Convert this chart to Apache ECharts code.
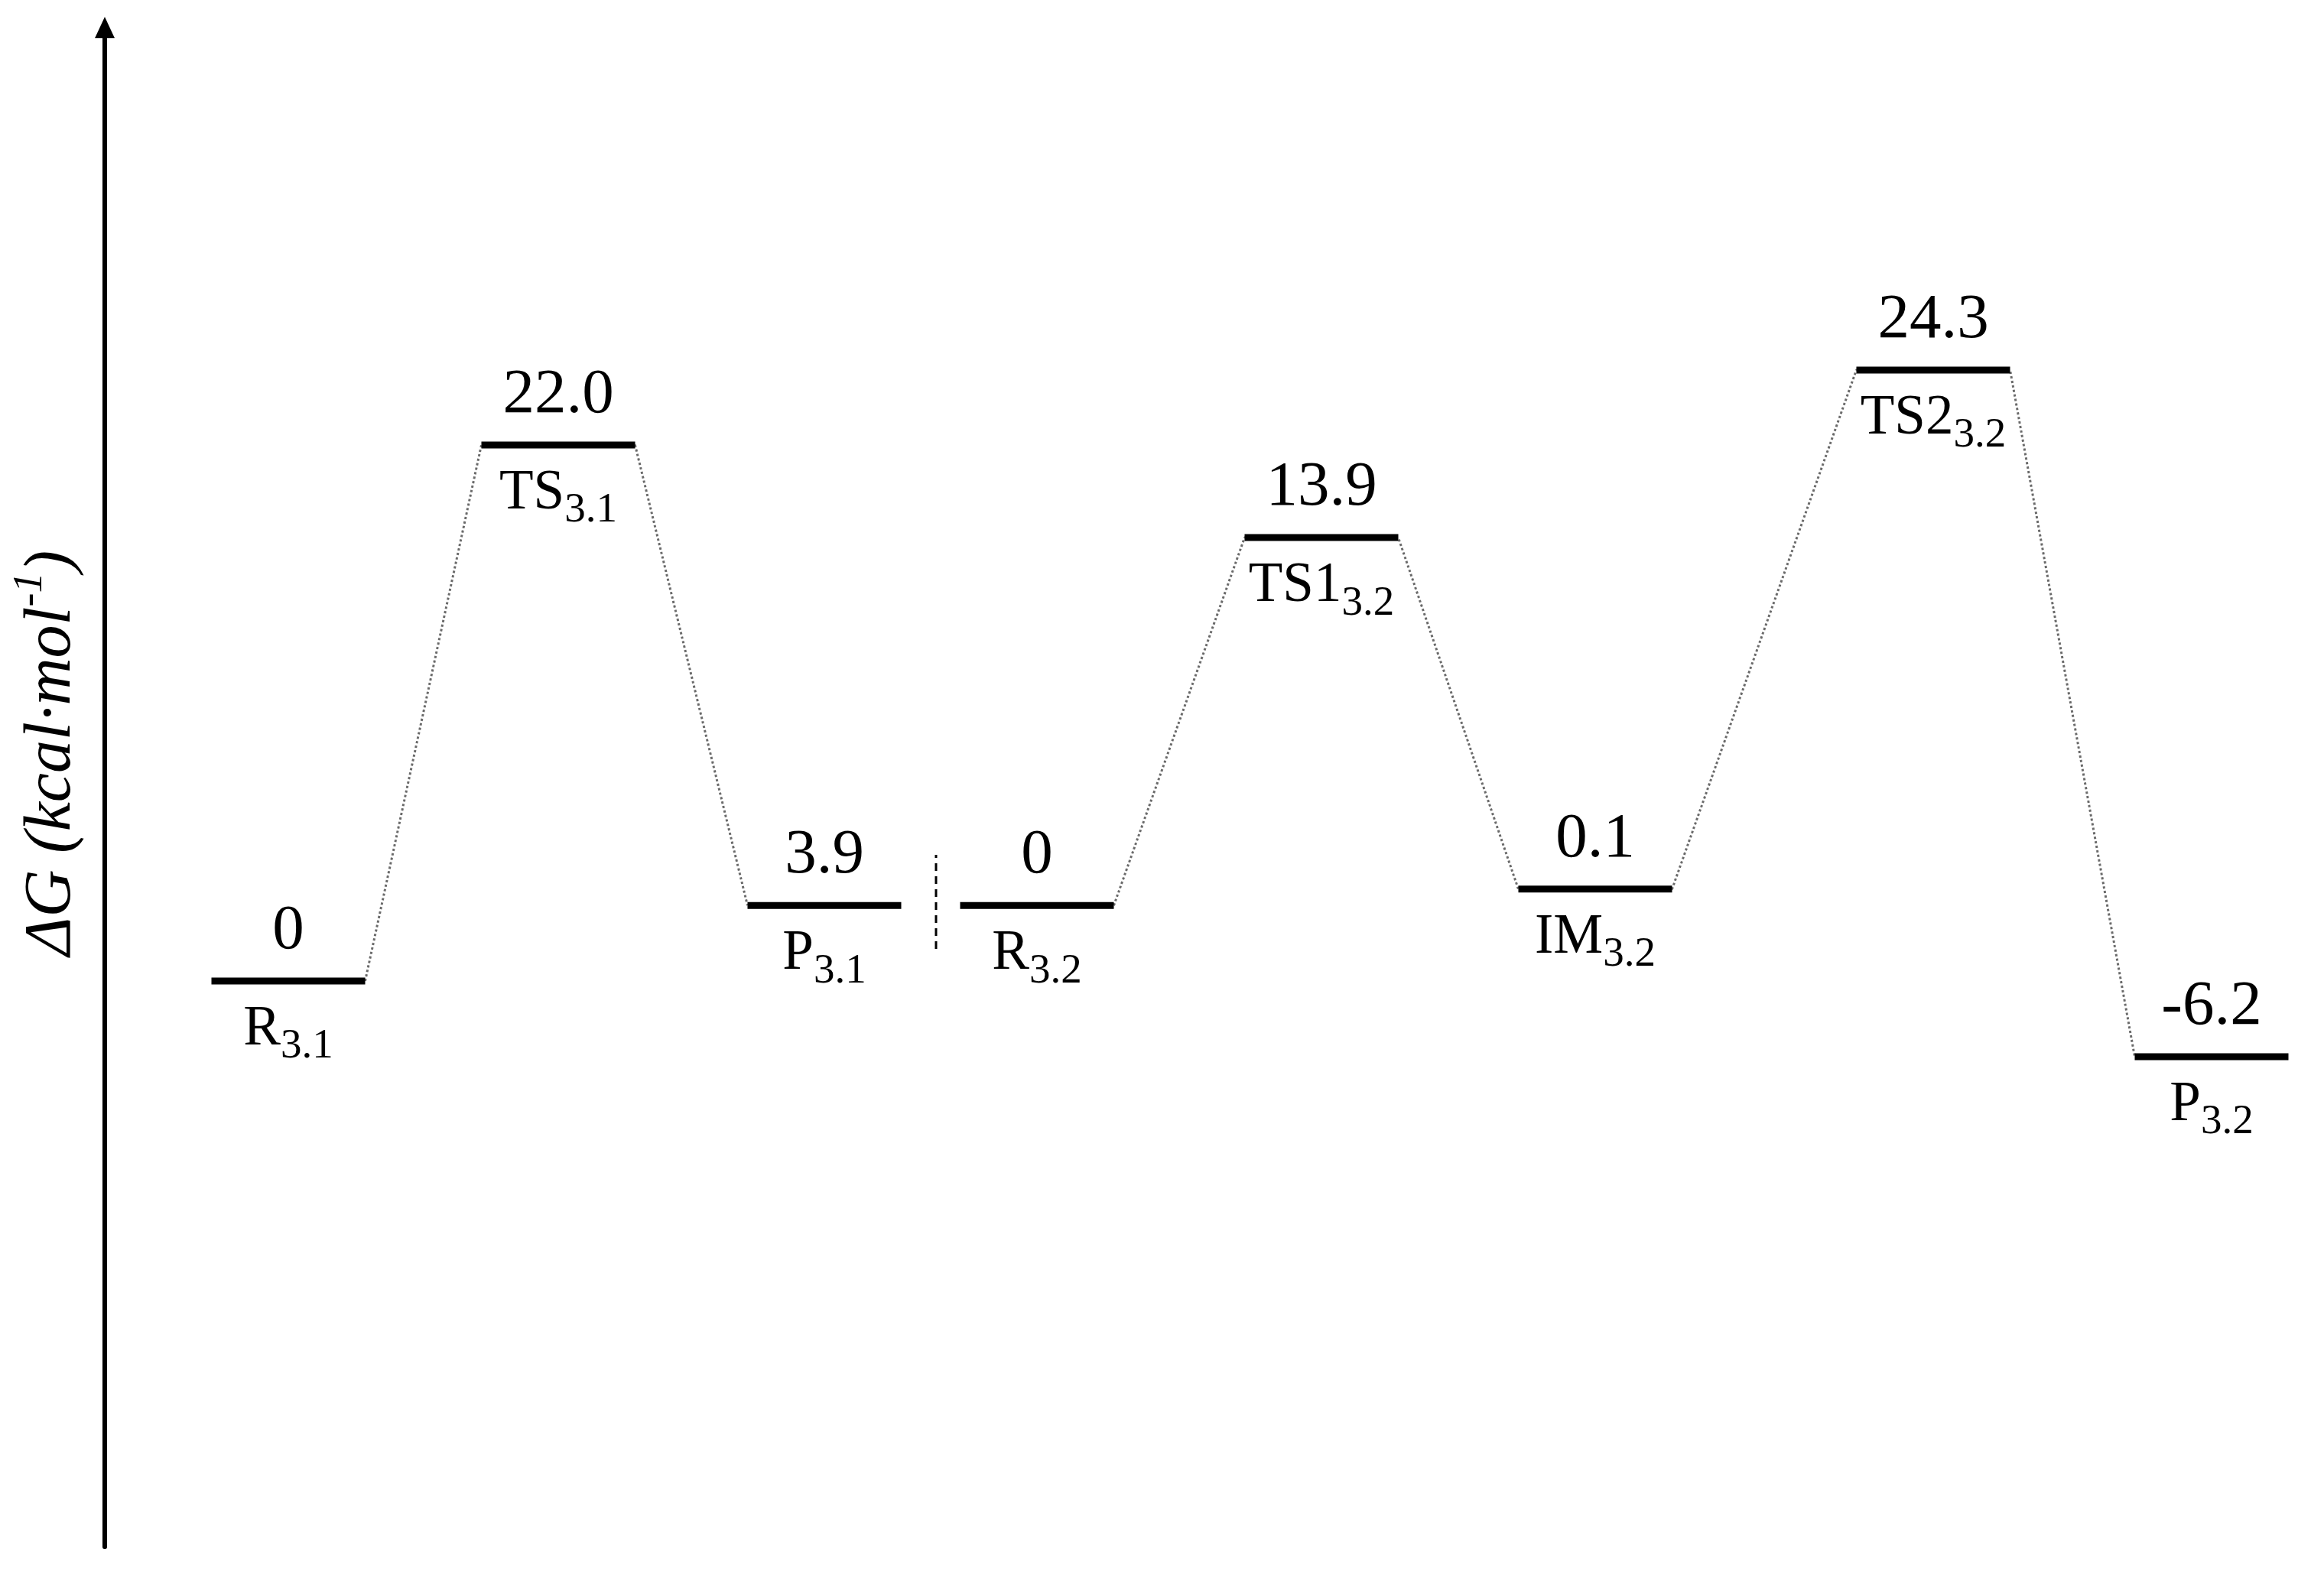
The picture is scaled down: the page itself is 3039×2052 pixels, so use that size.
<!DOCTYPE html>
<html>
<head>
<meta charset="utf-8">
<script src="https://cdn.jsdelivr.net/npm/echarts@6/dist/echarts.min.js"></script>
<style>
    html, body { margin: 0; padding: 0; background: #fff; }
    #diagram { width: 3039px; height: 2052px; }
</style>
</head>
<body>
<div id="diagram"></div>
<script>
// species along the two pathways (name + subscript)
var species = ['R', 'TS', 'P', 'R', 'TS1', 'IM', 'TS2', 'P'];
var subscripts = ['3.1', '3.1', '3.1', '3.2', '3.2', '3.2', '3.2', '3.2'];
var pathway = [1, 1, 1, 2, 2, 2, 2, 2];
// ΔG printed above each level (kcal/mol)
var energies = ['0', '22.0', '3.9', '0', '13.9', '0.1', '24.3', '-6.2'];
// level heights as they are drawn in the figure (it is not strictly to scale)
var levelHeight = [0, 22.0, 3.1, 3.1, 18.2, 3.77, 25.08, -3.11];
// reaction coordinate of the level centres
var levelPos = [2.40, 5.93, 9.41, 12.19, 15.91, 19.49, 23.91, 27.55];
// dashed divider between the two pathways
var dividerPos = 10.87;
var dividerSpan = [1.32, 5.18];

var HALF = 1.005;           // half width of a level bar
var FONT = 'Liberation Serif';
var VALUE_SIZE = 83, NAME_SIZE = 73, SUB_SIZE = 55;

var ctx = document.createElement('canvas').getContext('2d');
function textWidth(t, size) {
    ctx.font = size + 'px "' + FONT + '"';
    return ctx.measureText(t).width;
}

function connectorData(p) {
    var pts = [];
    for (var i = 0; i < species.length; i++) {
        if (pathway[i] !== p) continue;
        pts.push([levelPos[i] - HALF, levelHeight[i]]);
        pts.push([levelPos[i] + HALF, levelHeight[i]]);
    }
    return pts.slice(1, -1);
}

var levelData = [];
for (var i = 0; i < levelPos.length; i++) {
    levelData.push([levelPos[i], levelHeight[i]]);
}

var dom = document.getElementById('diagram');
var myChart = echarts.init(dom);
var connectorStyle = {color: '#6a6a6a', width: 3, type: [3, 3]};

var option = {
    animation: false,
    backgroundColor: '#fff',
    grid: {left: 137, right: 2, top: 36, bottom: 29},
    xAxis: {
        type: 'value',
        min: 0,
        max: 29,
        show: false
    },
    yAxis: {
        type: 'value',
        min: -23.23,
        max: 39.14,
        axisLine: {
            show: true,
            onZero: false,
            symbol: ['none', 'triangle'],
            symbolSize: [26, 28],
            lineStyle: {color: '#000', width: 6}
        },
        axisTick: {show: false},
        axisLabel: {show: false},
        splitLine: {show: false}
    },
    graphic: [{
        type: 'text',
        x: 62,
        y: 985,
        rotation: Math.PI / 2,
        style: {
            text: '{t|ΔG (kcal·mol}{s|-1}{t|)}',
            align: 'center',
            verticalAlign: 'middle',
            rich: {
                t: {fontSize: 86, fontStyle: 'italic', fontFamily: FONT, color: '#000',
                    lineHeight: 98, verticalAlign: 'bottom'},
                s: {fontSize: 54, fontStyle: 'italic', fontFamily: FONT, color: '#000',
                    lineHeight: 98, verticalAlign: 'top'}
            }
        }
    }],
    series: [
        {
            name: 'pathway 3.1',
            type: 'line',
            symbol: 'none',
            silent: true,
            z: 1,
            lineStyle: connectorStyle,
            data: connectorData(1)
        },
        {
            name: 'pathway 3.2',
            type: 'line',
            symbol: 'none',
            silent: true,
            z: 1,
            lineStyle: connectorStyle,
            data: connectorData(2)
        },
        {
            name: 'divider',
            type: 'line',
            symbol: 'none',
            silent: true,
            z: 1,
            lineStyle: {color: '#000', width: 3, type: [10, 7]},
            data: [[dividerPos, dividerSpan[0]], [dividerPos, dividerSpan[1]]]
        },
        {
            name: 'levels',
            type: 'custom',
            clip: false,
            silent: true,
            z: 10,
            data: levelData,
            renderItem: function (params, api) {
                var i = params.dataIndex;
                var a = api.coord([api.value(0) - HALF, api.value(1)]);
                var b = api.coord([api.value(0) + HALF, api.value(1)]);
                var cx = (a[0] + b[0]) / 2, y = a[1];
                var mw = textWidth(species[i], NAME_SIZE);
                var sw = textWidth(subscripts[i], SUB_SIZE);
                var left = cx - (mw + sw) / 2;
                return {
                    type: 'group',
                    children: [
                        {
                            type: 'line',
                            shape: {x1: a[0], y1: y, x2: b[0], y2: y},
                            style: {stroke: '#000', lineWidth: 9}
                        },
                        {
                            type: 'text', x: cx, y: y - 65,
                            style: {text: energies[i], fontSize: VALUE_SIZE, fontFamily: FONT,
                                fill: '#000', align: 'center', verticalAlign: 'middle'}
                        },
                        {
                            type: 'text', x: left, y: y + 64,
                            style: {text: species[i], fontSize: NAME_SIZE, fontFamily: FONT,
                                fill: '#000', align: 'left', verticalAlign: 'middle'}
                        },
                        {
                            type: 'text', x: left + mw, y: y + 86,
                            style: {text: subscripts[i], fontSize: SUB_SIZE, fontFamily: FONT,
                                fill: '#000', align: 'left', verticalAlign: 'middle'}
                        }
                    ]
                };
            }
        }
    ]
};

myChart.setOption(option);
</script>
</body>
</html>
